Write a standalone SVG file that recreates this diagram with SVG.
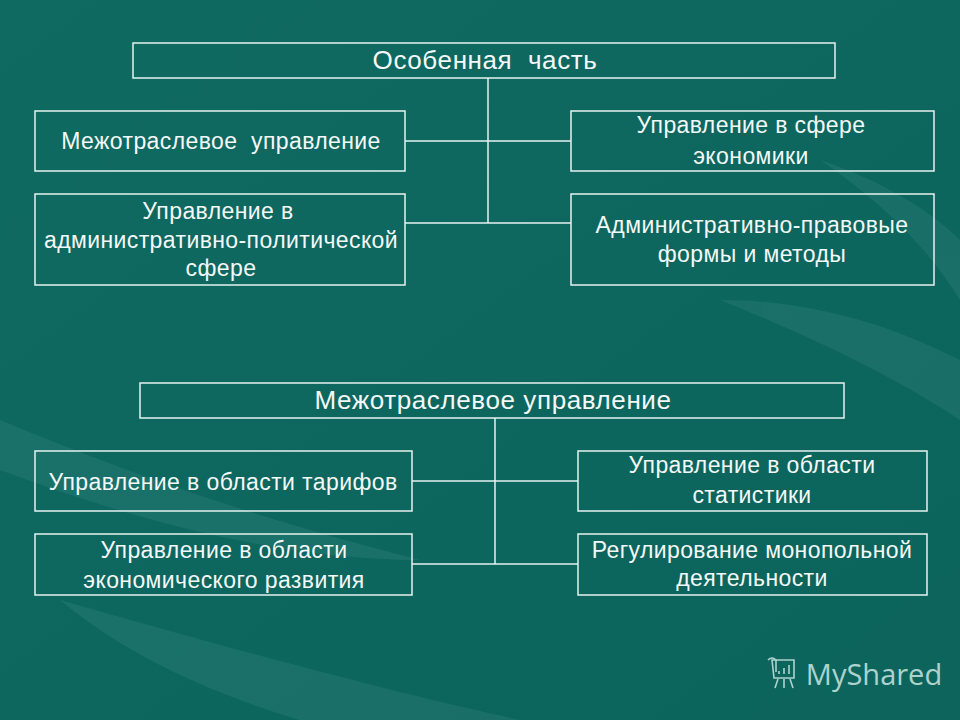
<svg xmlns="http://www.w3.org/2000/svg" width="960" height="720" viewBox="0 0 960 720">
<defs>
<linearGradient id="bg" x1="0" y1="0" x2="1" y2="1">
<stop offset="0" stop-color="#0f6a62"/>
<stop offset="0.5" stop-color="#0d675f"/>
<stop offset="1" stop-color="#0c645c"/>
</linearGradient>
<style>
.box{fill:none;stroke:#e6f2f0;stroke-width:1.5}
.ln{fill:none;stroke:#e6f2f0;stroke-width:1.5}
text{font-family:"Liberation Sans",Arial,sans-serif;fill:#f4f8f7;text-anchor:middle}
.t{font-size:23px;letter-spacing:0.4px}
.h{font-size:26px;letter-spacing:0.6px}
</style>
</defs>
<rect width="960" height="720" fill="url(#bg)"/>
<g opacity="0.09" fill="#9fd8cc">
<path d="M0 420 C120 470 260 520 420 560 C300 560 160 530 0 470 Z"/>
<path d="M60 600 C200 640 380 690 520 720 L300 720 C200 690 120 650 60 600 Z"/>
<path d="M720 300 C820 300 900 330 960 360 L960 420 C900 380 820 340 720 300 Z"/>
<path d="M820 160 C880 200 930 250 960 300 L960 240 C930 210 880 180 820 160 Z"/>
</g>
<g id="connectors">
<line class="ln" x1="488" y1="78" x2="488" y2="223"/>
<line class="ln" x1="405" y1="141" x2="571" y2="141"/>
<line class="ln" x1="405" y1="223" x2="571" y2="223"/>
<line class="ln" x1="495" y1="418" x2="495" y2="564"/>
<line class="ln" x1="412" y1="481" x2="578" y2="481"/>
<line class="ln" x1="412" y1="564" x2="578" y2="564"/>
</g>
<g id="n-osob"><rect class="box" x="133" y="43" width="702" height="35"/><text class="h" x="485" y="69" xml:space="preserve">Особенная  часть</text></g>
<g id="n-mezh1"><rect class="box" x="35" y="111" width="370" height="60"/><text class="t" x="221" y="149" xml:space="preserve">Межотраслевое  управление</text></g>
<g id="n-adm"><rect class="box" x="35" y="194" width="370" height="91"/><text class="t" x="218" y="219">Управление в<tspan x="221" dy="29">административно-политической</tspan><tspan x="221" dy="28">сфере</tspan></text></g>
<g id="n-econ"><rect class="box" x="571" y="111" width="363" height="60"/><text class="t" x="751" y="133">Управление в сфере<tspan x="751" dy="31">экономики</tspan></text></g>
<g id="n-forms"><rect class="box" x="571" y="194" width="363" height="91"/><text class="t" x="752" y="233">Административно-правовые<tspan x="752" dy="29">формы и методы</tspan></text></g>
<g id="n-mezh2"><rect class="box" x="140" y="383" width="704" height="35"/><text class="h" x="493" y="409">Межотраслевое управление</text></g>
<g id="n-tarif"><rect class="box" x="35" y="451" width="377" height="60"/><text class="t" x="223" y="490">Управление в области тарифов</text></g>
<g id="n-razv"><rect class="box" x="35" y="534" width="377" height="61"/><text class="t" x="224" y="558">Управление в области<tspan x="224" dy="30">экономического развития</tspan></text></g>
<g id="n-stat"><rect class="box" x="578" y="451" width="349" height="60"/><text class="t" x="752" y="473">Управление в области<tspan x="752" dy="30">статистики</tspan></text></g>
<g id="n-monop"><rect class="box" x="578" y="534" width="349" height="61"/><text class="t" x="752" y="558">Регулирование монопольной<tspan x="752" dy="28">деятельности</tspan></text></g>
<g id="logo" opacity="0.8" fill="none" stroke="#d6eee9" stroke-width="1.6">
<path d="M772 660 h22 v18 h-20 z"/>
<path d="M768 660 q4 -4 8 0 v12"/>
<path d="M779 674 v-3 M784 674 v-6 M789 674 v-9"/>
<path d="M778 679 l-3 9 M784 679 v9 M790 679 l3 9"/>
<text x="874" y="685" stroke="none" style="font-family:'Open Sans','DejaVu Sans',sans-serif;font-size:29px;fill:#d6eee9">MyShared</text>
</g>
</svg>
